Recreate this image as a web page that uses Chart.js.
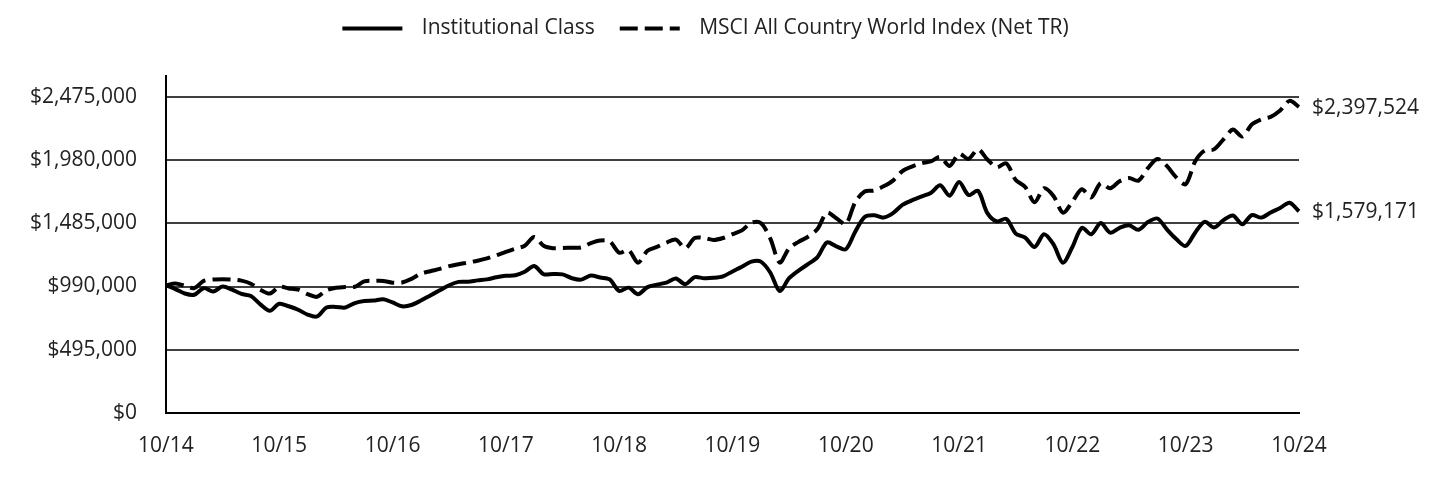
<!DOCTYPE html>
<html>
<head>
<meta charset="utf-8">
<script src="https://cdn.jsdelivr.net/npm/chart.js@4.4.1/dist/chart.umd.min.js"></script>
<style>
html,body{margin:0;padding:0;background:#fff}
#wrap{width:1440px;height:480px}
</style>
</head>
<body>
<div id="wrap"><canvas id="growth" width="1440" height="480"></canvas></div>
<script>
// growth of $1,000,000, monthly 10/14 - 10/24
const seriesNames = ['Institutional Class', 'MSCI All Country World Index (Net TR)']
const tickLabels = ['10/14','10/15','10/16','10/17','10/18','10/19','10/20','10/21','10/22','10/23','10/24']
const yTicks = [0, 495000, 990000, 1485000, 1980000, 2475000]

const institutional = [
1000000, 970000, 935000, 925000, 977000, 950000, 990000, 965000, 932000, 915000,
850000, 800000, 855000, 835000, 808000, 770000, 755000, 825000, 830000, 825000,
860000, 877000, 880000, 890000, 865000, 835000, 845000, 880000, 920000, 960000,
1000000, 1026000, 1028000, 1038000, 1046000, 1062000, 1074000, 1078000, 1105000, 1151000,
1086000, 1088000, 1085000, 1055000, 1044000, 1076000, 1060000, 1045000, 955000, 981000,
930000, 985000, 1005000, 1020000, 1053000, 1008000, 1063000, 1055000, 1058000, 1070000,
1108000, 1145000, 1185000, 1185000, 1100000, 955000, 1055000, 1115000, 1165000, 1220000,
1335000, 1305000, 1282000, 1420000, 1535000, 1548000, 1530000, 1565000, 1630000, 1665000,
1695000, 1723000, 1783000, 1702000, 1810000, 1707000, 1740000, 1565000, 1500000, 1520000,
1405000, 1373000, 1300000, 1400000, 1320000, 1177000, 1300000, 1450000, 1400000, 1488000,
1412000, 1450000, 1470000, 1435000, 1495000, 1523000, 1438000, 1362000, 1308000, 1412000,
1497000, 1452000, 1510000, 1547000, 1478000, 1550000, 1530000, 1570000, 1605000, 1647000,
1579171]

const msci = [
1000000, 1013000, 995000, 977000, 1034000, 1045000, 1047000, 1045000, 1036000, 1012000,
965000, 935000, 987000, 975000, 965000, 930000, 909000, 960000, 980000, 987000,
988000, 1030000, 1034000, 1034000, 1020000, 1021000, 1050000, 1090000, 1110000, 1128000,
1150000, 1165000, 1178000, 1192000, 1210000, 1235000, 1262000, 1287000, 1310000, 1378000,
1310000, 1290000, 1292000, 1294000, 1297000, 1330000, 1350000, 1345000, 1255000, 1275000,
1177000, 1270000, 1300000, 1334000, 1358000, 1290000, 1370000, 1370000, 1355000, 1370000,
1400000, 1430000, 1490000, 1488000, 1368000, 1178000, 1290000, 1340000, 1380000, 1440000,
1569000, 1525000, 1480000, 1650000, 1735000, 1742000, 1775000, 1820000, 1895000, 1930000,
1955000, 1970000, 2005000, 1935000, 2030000, 1990000, 2065000, 1985000, 1925000, 1955000,
1825000, 1770000, 1650000, 1760000, 1700000, 1569000, 1655000, 1752000, 1688000, 1800000,
1760000, 1815000, 1840000, 1820000, 1918000, 1990000, 1935000, 1845000, 1792000, 1970000,
2055000, 2065000, 2143000, 2220000, 2165000, 2260000, 2300000, 2320000, 2370000, 2445000,
2397524]

// month categories, oct 2014 .. oct 2024
const months = []
for (let i = 0; i <= 120; i++) {
  let m = (9 + i) % 12 + 1
  let yr = 14 + Math.floor((9 + i) / 12)
  months.push(String(m).padStart(2, '0') + '/' + yr)
}

const font = {family: '"Open Sans", sans-serif', size: 21}
const textColor = '#222'
const money = v => '$' + Number(v).toLocaleString('en-US')

// legend swatch: 60px line with some space round it
function swatch(dash) {
  const c = document.createElement('canvas')
  c.width = 76
  c.height = 20
  const g = c.getContext('2d')
  g.strokeStyle = '#000'
  g.lineWidth = 4
  g.setLineDash(dash)
  g.beginPath()
  g.moveTo(7, 10)
  g.lineTo(67, 10)
  g.stroke()
  return c
}

// room under the legend + nudge it sideways
const legendFix = {
  id: 'legendFix',
  beforeInit(chart) {
    const fit = chart.legend.fit
    chart.legend.fit = function() {
      fit.call(this)
      this.height += 27
      this.lineWidths[0] -= 104
    }
  }
}

// value labels at the end of each line
const endLabels = {
  id: 'endLabels',
  afterDatasetsDraw(chart) {
    const ctx = chart.ctx
    ctx.save()
    ctx.font = '21px "Open Sans", sans-serif'
    ctx.fillStyle = textColor
    ctx.textBaseline = 'middle'
    ctx.textAlign = 'left'
    chart.data.datasets.forEach((ds, i) => {
      const pts = chart.getDatasetMeta(i).data
      const last = pts[pts.length - 1]
      ctx.fillText(money(ds.data[ds.data.length - 1]), last.x + 13, last.y + 1)
    })
    ctx.restore()
  }
}

new Chart(document.getElementById('growth'), {
  type: 'line',
  data: {
    labels: months,
    datasets: [{
      label: seriesNames[0],
      data: institutional,
      borderColor: '#000',
      backgroundColor: '#000',
      borderWidth: 4,
      pointRadius: 0,
      pointStyle: swatch([]),
      tension: 0.3,
      borderJoinStyle: 'round'
    }, {
      label: seriesNames[1],
      data: msci,
      borderColor: '#000',
      backgroundColor: '#000',
      borderWidth: 4,
      borderDash: [18, 7],
      pointRadius: 0,
      pointStyle: swatch([18, 7]),
      tension: 0.3,
      borderJoinStyle: 'round'
    }]
  },
  options: {
    responsive: false,
    animation: false,
    devicePixelRatio: 1,
    layout: {padding: {left: 1, right: 141, top: 0, bottom: 0}},
    plugins: {
      tooltip: {enabled: false},
      legend: {
        position: 'top',
        labels: {
          usePointStyle: true,
          pointStyleWidth: 76,
          boxHeight: 20,
          padding: 18,
          font: font,
          color: textColor
        }
      }
    },
    scales: {
      x: {
        type: 'category',
        grid: {display: false, drawTicks: false},
        border: {display: true, color: '#000', width: 2},
        ticks: {
          autoSkip: false,
          maxRotation: 0,
          padding: 21,
          font: font,
          color: textColor,
          callback: (v, i) => i % 12 === 0 ? tickLabels[i / 12] : null
        }
      },
      y: {
        min: 0,
        max: 2640000,
        afterBuildTicks: axis => { axis.ticks = yTicks.map(v => ({value: v})) },
        grid: {color: '#404040', lineWidth: 2, drawTicks: false},
        border: {display: true, color: '#000', width: 2},
        ticks: {
          padding: 29,
          font: font,
          color: textColor,
          callback: v => money(v)
        }
      }
    }
  },
  plugins: [legendFix, endLabels]
})
</script>
</body>
</html>
